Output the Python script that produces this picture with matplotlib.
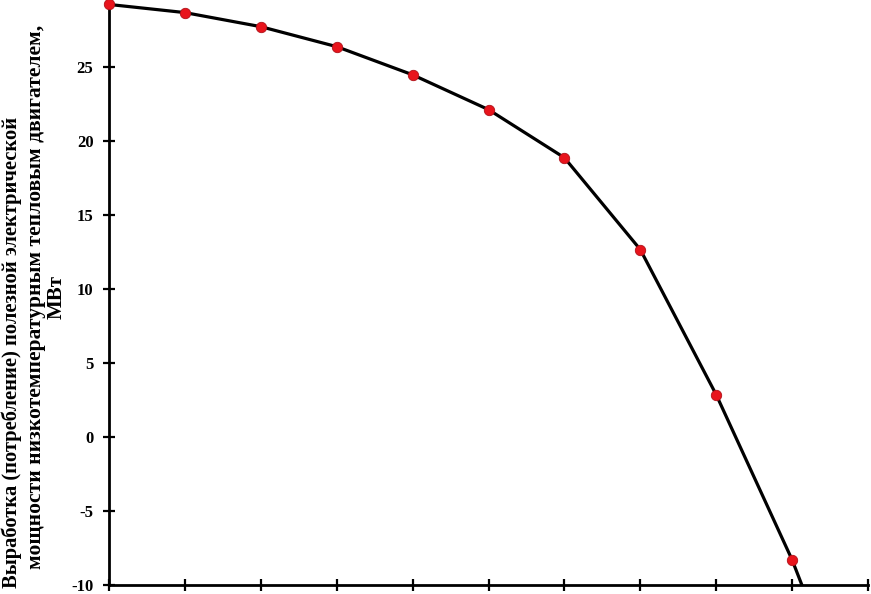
import numpy as np
import matplotlib
matplotlib.use("Agg")
import matplotlib.pyplot as plt

plt.rcParams['font.family'] = ['Liberation Serif', 'DejaVu Serif']
plt.rcParams['font.weight'] = 'bold'

x_vals = [0, 1, 2, 3, 4, 5, 6, 7, 8, 9, 10]
power = [29.2, 28.65, 27.7, 26.35, 24.45, 22.1, 18.85, 12.65, 2.85, -8.3, -21.5]
y_ticks = [-10, -5, 0, 5, 10, 15, 20, 25]

fig = plt.figure(figsize=(8.71, 5.94), dpi=100)
ax = fig.add_axes([109/871, 9/594, 759/871, 585/594])

# line is clipped at the axes, markers are not (top one sits on the edge)
ax.plot(x_vals, power, color="black", linewidth=2.3)
ax.plot(x_vals, power, linestyle="none", marker="o", markersize=7.5,
        markerfacecolor="#e8141c", markeredgecolor="#b01018",
        markeredgewidth=0.6, clip_on=False, zorder=3)

ax.set_xlim(0, 10)
ax.set_ylim(-10, 29.5)
ax.set_xticks(np.arange(0, 11, 1))
ax.set_xticklabels([])
ax.set_yticks(y_ticks)
ax.set_yticklabels([str(t) for t in y_ticks], fontsize=12, fontweight='bold')

for s in ['top', 'right']:
    ax.spines[s].set_visible(False)
for s in ['left', 'bottom']:
    ax.spines[s].set_linewidth(2)
ax.tick_params(direction='inout', length=8.5, width=1.6, pad=7)

# y label written as three separate lines
fig.text(12/871, 1 - 352/594, "Выработка (потребление) полезной электрической",
         rotation=90, ha='center', va='center', fontsize=14.8, fontweight='bold')
fig.text(36/871, 1 - 297/594, "мощности низкотемпературным тепловым двигателем,",
         rotation=90, ha='center', va='center', fontsize=15.5, fontweight='bold')
fig.text(57/871, 1 - 297/594, "МВт",
         rotation=90, ha='center', va='center', fontsize=15, fontweight='bold')

fig.savefig("out.png", dpi=100)
